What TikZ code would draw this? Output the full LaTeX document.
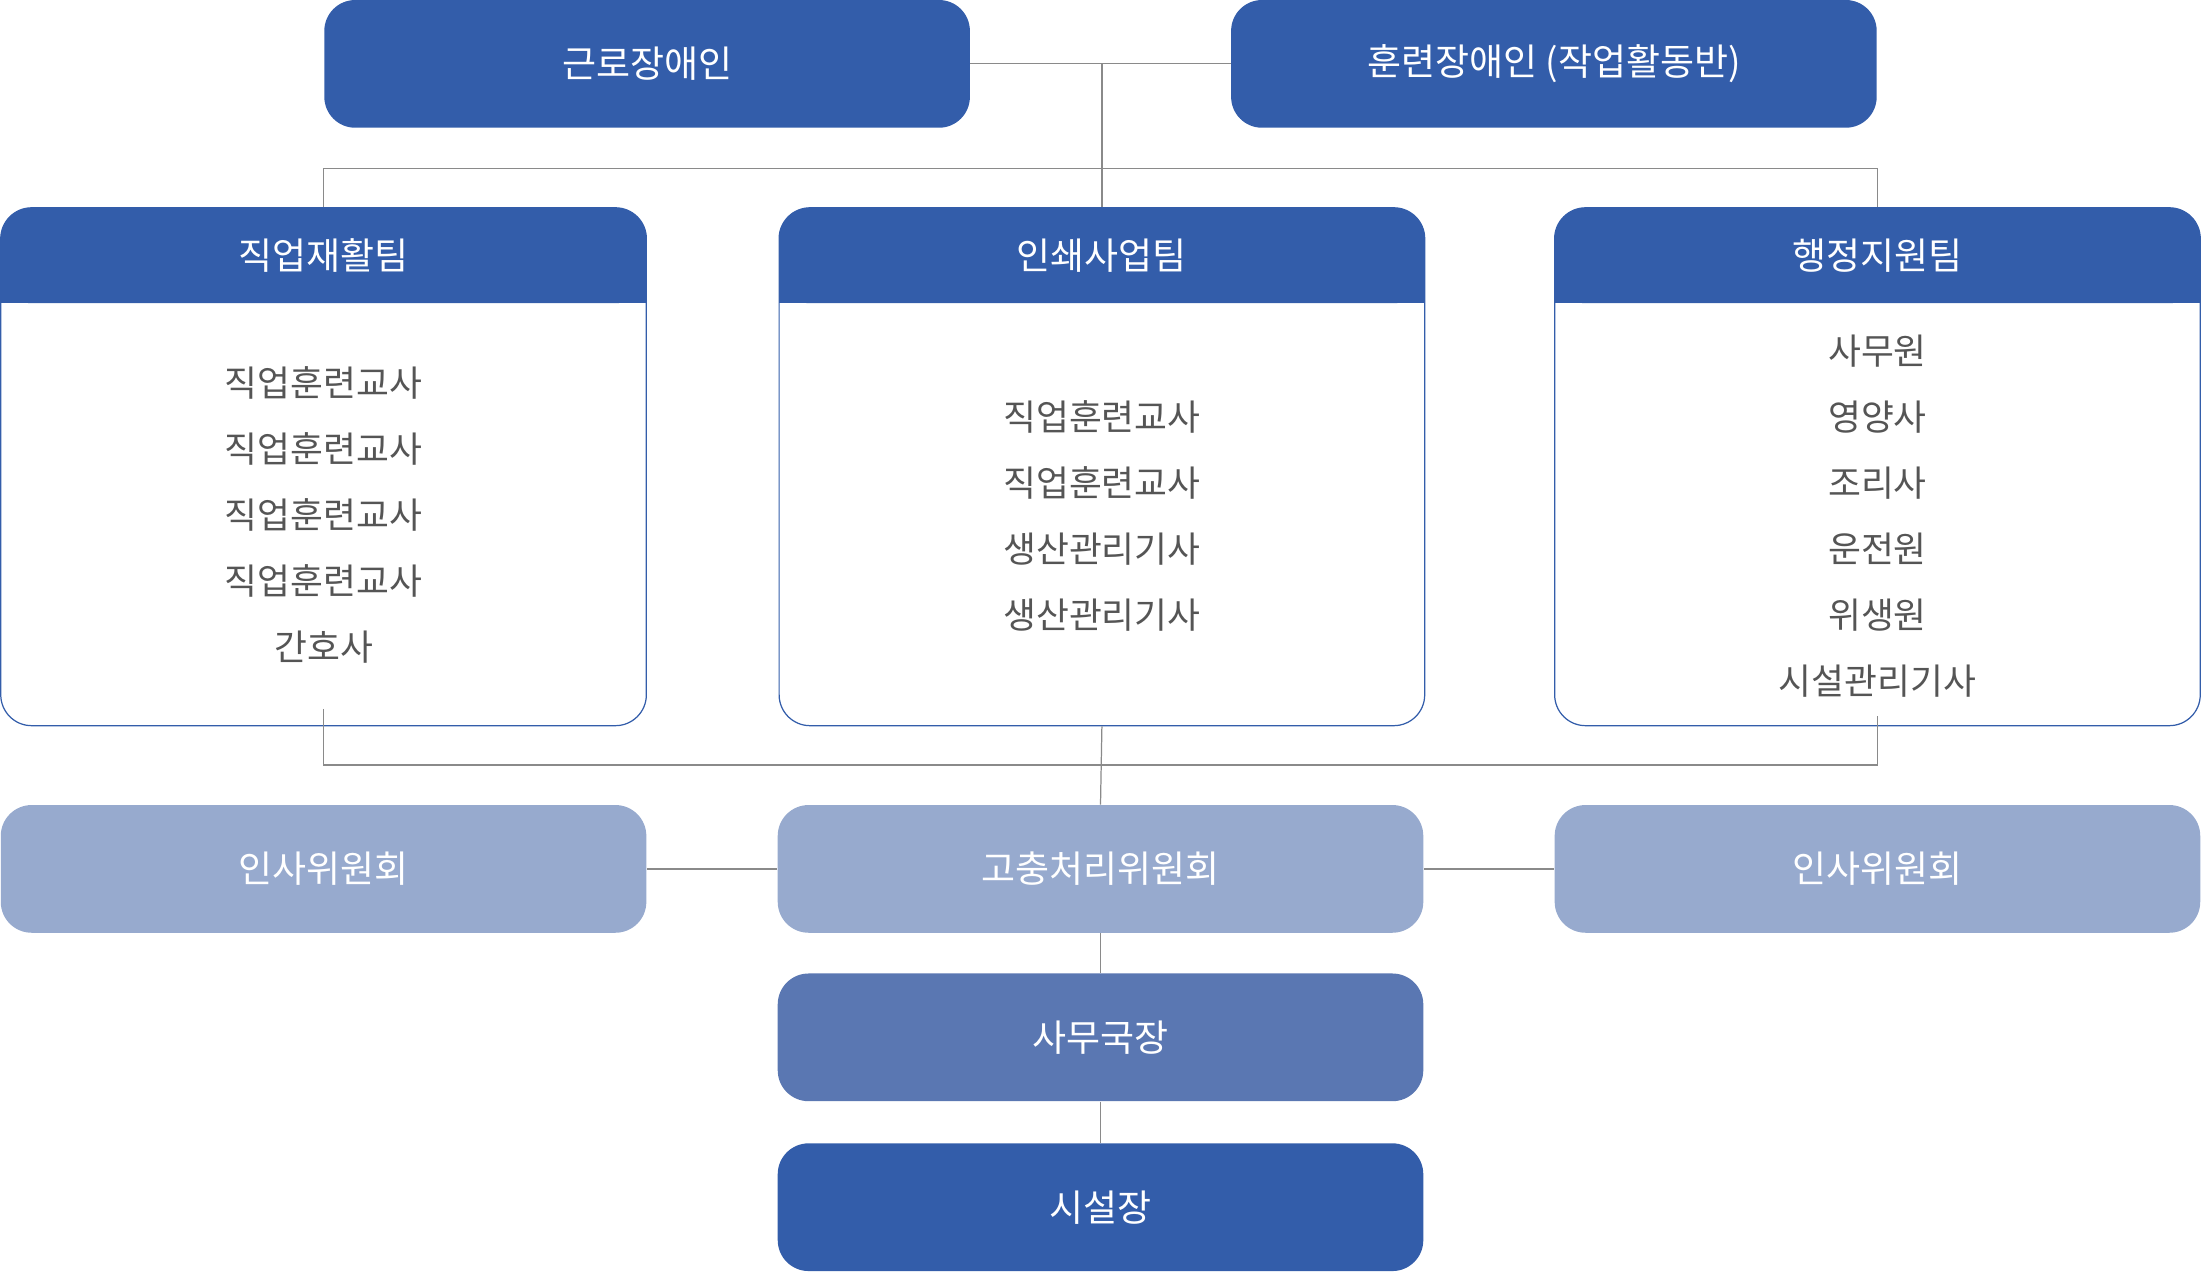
\documentclass[tikz,border=0pt]{standalone}
\usepackage{fontspec}
\setmainfont{Noto Sans CJK KR}
\newfontfamily\krmed{Noto Sans CJK KR Medium}
\usetikzlibrary{positioning}
\definecolor{darkblue}{HTML}{335DAA}
\definecolor{midblue}{HTML}{5A77B2}
\definecolor{paleblue}{HTML}{97AACE}
\definecolor{linegray}{HTML}{8A8A8A}
\definecolor{itemgray}{HTML}{555555}
\tikzset{
  topbox/.style={fill=darkblue, rounded corners=0.44cm, minimum width=9.2cm, minimum height=1.82cm, text=white, font=\fontsize{15}{18}\selectfont},
  cmtbox/.style={topbox, fill=paleblue},
  chiefbox/.style={topbox, fill=midblue},
  teambox/.style={draw=darkblue, line width=0.5pt, rounded corners=0.44cm, minimum width=9.2cm, minimum height=7.38cm},
  item/.style={text=itemgray, font=\fontsize{14.5}{17}\selectfont},
  link/.style={draw=linegray, line width=0.5pt}
}
\begin{document}
\begin{tikzpicture}[x=0.02cm, y=-0.02cm]
\useasboundingbox (0,0) rectangle (1568,906);
% top
\node[topbox](W) at (461,45.5){근로장애인};
\node[topbox](T) at (1107,45.5){훈련장애인 (작업활동반)};
% teams
\foreach \cx/\nm/\ttl in {230.5/A/직업재활팀, 785/B/인쇄사업팀, 1337.5/C/행정지원팀}{
  \fill[darkblue, rounded corners=0.44cm] (\cx-230,148) rectangle (\cx+230,216);
  \fill[darkblue] (\cx-230,190) rectangle (\cx+230,216);
  \node[teambox](\nm) at (\cx,332.5){};
  \node[text=white, font=\fontsize{15}{18}\selectfont](\nm h) at (\cx,182){\ttl};
}
\foreach \t [count=\i] in {직업훈련교사,직업훈련교사,직업훈련교사,직업훈련교사,간호사}
  \node[item](a\i) at (230.5,226+47*\i){\t};
\foreach \t [count=\i] in {직업훈련교사,직업훈련교사,생산관리기사,생산관리기사}
  \node[item](b\i) at (785,250+47*\i){\t};
\foreach \t [count=\i] in {사무원,영양사,조리사,운전원,위생원,시설관리기사}
  \node[item](c\i) at (1337.5,203+47*\i){\t};
% committees
\node[cmtbox](P1) at (230.5,619){인사위원회};
\node[cmtbox](G) at (784,619){고충처리위원회};
\node[cmtbox](P2) at (1337.5,619){인사위원회};
\node[chiefbox](S) at (784,739){사무국장};
\node[topbox](D) at (784,860){시설장};
% links
\coordinate (J1) at (785,45.5);
\coordinate (J2) at (785,120);
\coordinate (J3) at (785,545);
\path[link] (W.east) -- (T.west);
\path[link] (J1) -- (J2);
\path[link] (A.north) |- (J2) -| (C.north);
\path[link] (J2) -- (B.north);
\path[link] (230.5,505) coordinate(Ab) -- (230.5,545) -| (1337.5,510);
\path[link] (B.south) -- (G.north);
\path[link] (P1.east) -- (G.west);
\path[link] (G.east) -- (P2.west);
\path[link] (G.south) -- (S.north);
\path[link] (S.south) -- (D.north);
\end{tikzpicture}
\end{document}
